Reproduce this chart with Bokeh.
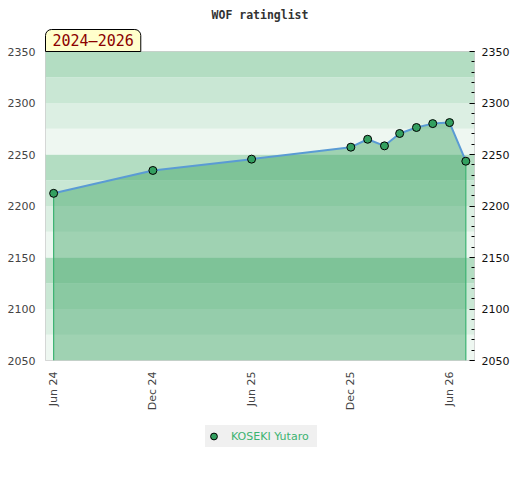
import math
from datetime import datetime
from bokeh.plotting import figure
from bokeh.layouts import column
from bokeh.models import (Range1d, LinearAxis, SingleIntervalTicker, FixedTicker,
                          DatetimeTickFormatter, BoxAnnotation, Title, Legend, LegendItem)
from bokeh.embed import file_html
from bokeh.resources import INLINE

# ---- data ----
dates = [datetime(2024, 6, 1), datetime(2024, 12, 1), datetime(2025, 6, 1),
         datetime(2025, 12, 1), datetime(2026, 1, 1), datetime(2026, 2, 1),
         datetime(2026, 3, 1), datetime(2026, 4, 1), datetime(2026, 5, 1),
         datetime(2026, 6, 1), datetime(2026, 7, 1)]
ratings = [2212.3, 2234.5, 2245.5, 2257.1, 2264.8, 2258.4, 2270.4, 2276.2,
           2280.0, 2281.0, 2243.5]
player = "KOSEKI Yutaro"
title_text = "WOF ratinglist"
period_text = "2024–2026"
tick_dates = [datetime(2024, 6, 1), datetime(2024, 12, 1), datetime(2025, 6, 1),
              datetime(2025, 12, 1), datetime(2026, 6, 1)]
tick_labels = ["Jun 24", "Dec 24", "Jun 25", "Dec 25", "Jun 26"]
y_min, y_max = 2050, 2350
band_step = 25
band_colors = ["#eef7f1", "#dcefe3", "#c9e7d4", "#b3ddc2"]
x_start, x_end = datetime(2024, 5, 17), datetime(2026, 7, 17)

EPOCH = datetime(1970, 1, 1)
def ms(d):
    return (d - EPOCH).total_seconds() * 1000.0

p = figure(x_axis_type="datetime", width=512, height=420,
           output_backend="svg", toolbar_location=None,
           x_range=Range1d(x_start, x_end), y_range=Range1d(y_min, y_max),
           min_border_left=45, min_border_right=37, min_border_top=50, min_border_bottom=60)
p.outline_line_color = "#cccccc"
p.background_fill_color = "white"
p.grid.visible = False

# period box (closest to the frame)
p.add_layout(Title(text=period_text, align="left", text_font="DejaVu Sans Mono",
                   text_font_size="15px", text_font_style="normal", text_color="#8b0000",
                   background_fill_color="#ffffcc", border_line_color="black",
                   border_line_width=1, padding=(7, 2), border_radius=(6, 6, 0, 0),
                   standoff=0, offset=0), "above")

p.title.text = title_text
p.title.text_font = "DejaVu Sans Mono"
p.title.text_font_size = "11.5px"
p.title.text_font_style = "bold"
p.title.text_color = "#333333"
p.title.align = "center"
p.title.standoff = 11

# bands
n_bands = (y_max - y_min) // band_step
for i in range(n_bands):
    p.add_layout(BoxAnnotation(bottom=y_min + i * band_step, top=y_min + (i + 1) * band_step,
                               fill_color=band_colors[i % 4], fill_alpha=1.0,
                               line_color=None, level="underlay"))

# area, line, end verticals, points
p.varea(x=dates, y1=y_min, y2=ratings, fill_color="#3ea467", fill_alpha=0.45)
p.segment(x0=[dates[0], dates[-1]], y0=[ratings[0], ratings[-1]],
          x1=[dates[0], dates[-1]], y1=[y_min, y_min], line_color="#3cb371", line_width=1.2)
p.line(dates, ratings, line_color="#5a9bd4", line_width=2)
pts = p.scatter(dates, ratings, size=8, fill_color="#33a060", line_color="black", line_width=1)

# x axis
xa = p.xaxis[0]
xa.ticker = FixedTicker(ticks=[ms(d) for d in tick_dates])
fmt = "%b %y"
xa.formatter = DatetimeTickFormatter(milliseconds=fmt, seconds=fmt, minsec=fmt, minutes=fmt,
                                     hourmin=fmt, hours=fmt, days=fmt, months=fmt, years=fmt)
xa.major_label_overrides = {ms(d): lab for d, lab in zip(tick_dates, tick_labels)}
xa.major_label_orientation = math.pi / 2
xa.major_tick_out = 0
xa.major_tick_in = 0
xa.minor_tick_out = 0
xa.minor_tick_in = 0
xa.axis_line_color = None
xa.major_label_standoff = 11
xa.major_label_text_font = "DejaVu Sans"
xa.major_label_text_font_size = "11px"
xa.major_label_text_color = "#444444"

# left axis
ya = p.yaxis[0]
ya.ticker = SingleIntervalTicker(interval=50, num_minor_ticks=5)
ya.major_tick_out = 0
ya.major_tick_in = 0
ya.minor_tick_out = 0
ya.minor_tick_in = 0
ya.axis_line_color = None
ya.major_label_standoff = 10
ya.major_label_text_font = "DejaVu Sans"
ya.major_label_text_font_size = "11px"
ya.major_label_text_color = "#444444"

# right axis
ra = LinearAxis(ticker=SingleIntervalTicker(interval=50, num_minor_ticks=5))
ra.major_tick_out = 0
ra.major_tick_in = 5
ra.minor_tick_out = 0
ra.minor_tick_in = 3
ra.major_tick_line_color = "black"
ra.minor_tick_line_color = "black"
ra.axis_line_color = None
ra.major_label_standoff = 7
ra.major_label_text_font = "DejaVu Sans"
ra.major_label_text_font_size = "11px"
ra.major_label_text_color = "#111111"
p.add_layout(ra, "right")

# legend in its own small strip below the chart (its series lies outside this strip's ranges)
p2 = figure(width=512, height=56, output_backend="svg", toolbar_location=None,
            x_range=Range1d(0, 1), y_range=Range1d(0, 1),
            x_axis_location=None, y_axis_location=None,
            min_border=0, outline_line_color=None)
p2.grid.visible = False
proxy = p2.scatter(x=[ms(d) for d in dates], y=ratings, size=8, fill_color="#33a060",
                   line_color="black", line_width=1)
legend = Legend(items=[LegendItem(label=player, renderers=[proxy])],
                location=(160, 29), orientation="horizontal",
                background_fill_color="#f0f0f0", background_fill_alpha=1,
                border_line_color=None, label_text_color="#3cb371",
                label_text_font="DejaVu Sans", label_text_font_size="11px",
                glyph_width=17, glyph_height=22, label_height=22, label_width=86,
                label_standoff=9, padding=0, margin=0, spacing=0)
p2.add_layout(legend, "center")

open("out.html", "w").write(file_html(column(p, p2), INLINE))
